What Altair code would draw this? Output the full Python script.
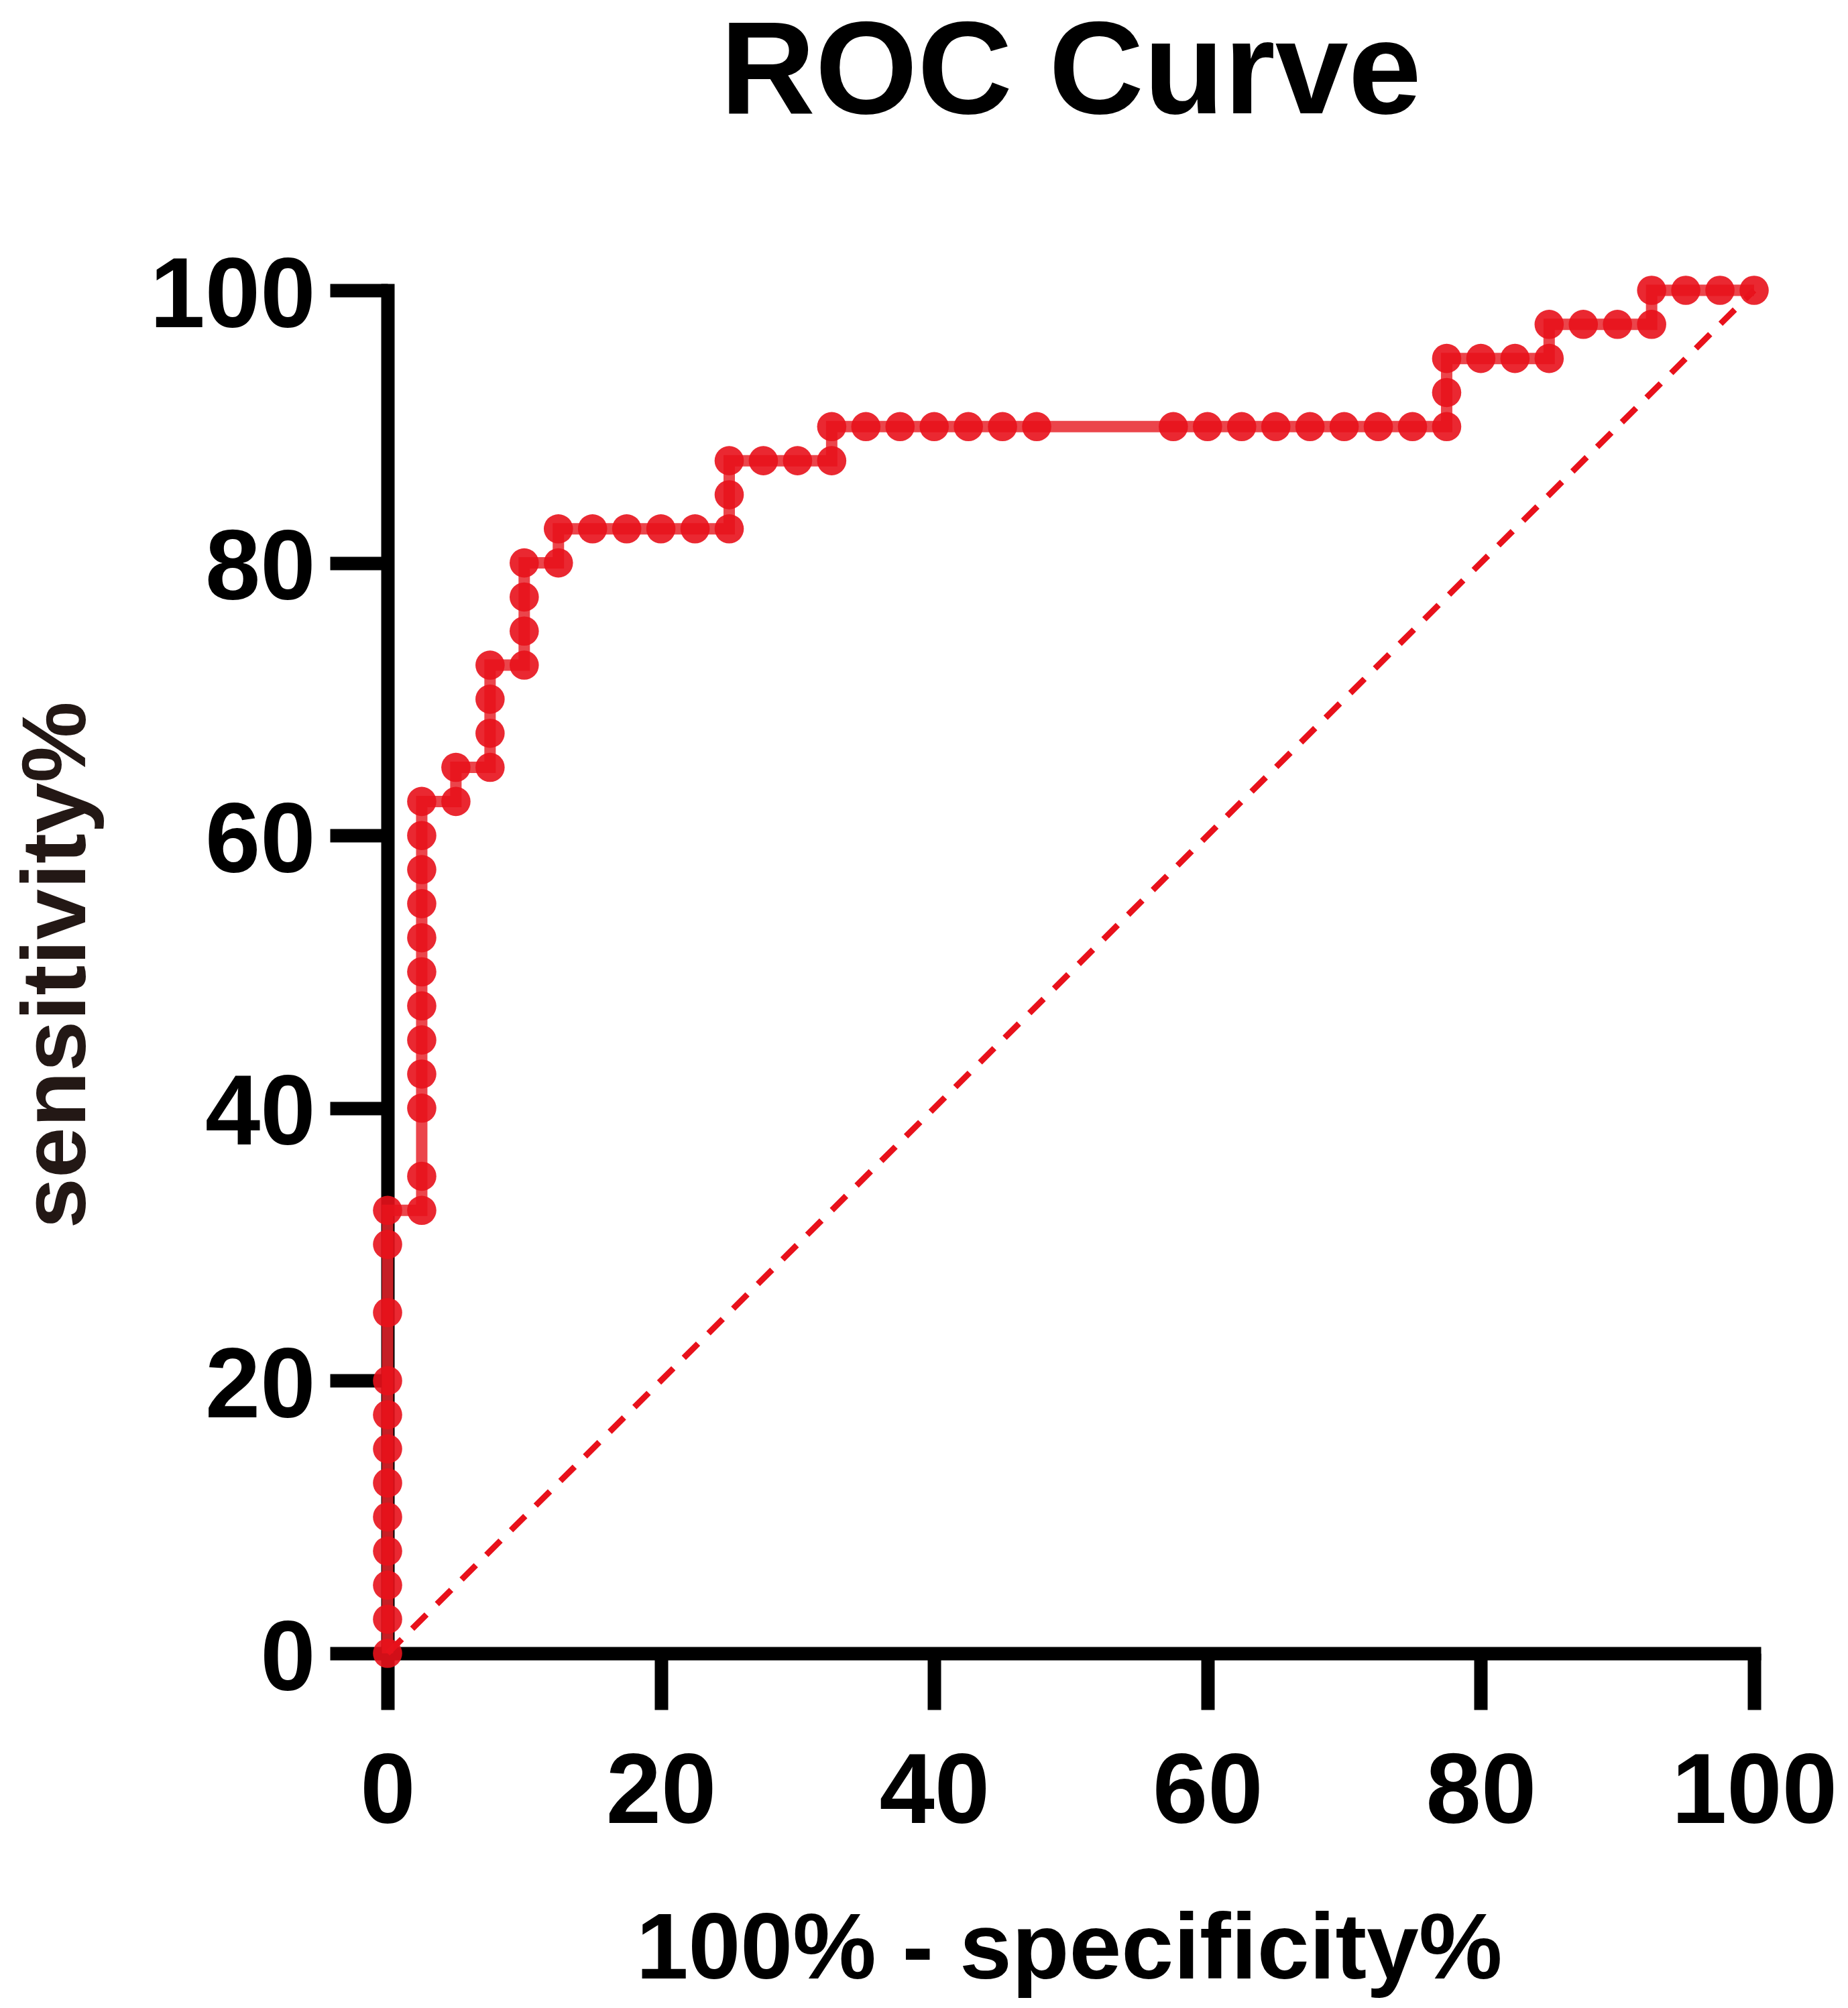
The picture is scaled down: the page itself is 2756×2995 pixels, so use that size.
import altair as alt
import pandas as pd

# ROC curve points (100% - specificity%, sensitivity%), in path order
fpr = ([0] * 12 + [2.5] * 12 + [5] * 2 + [7.5] * 4 + [10] * 4 + [12.5] * 2
       + [15, 17.5, 20, 22.5, 25] + [25, 25] + [27.5, 30, 32.5] + [32.5]
       + [35, 37.5, 40, 42.5, 45, 47.5, 57.5, 60, 62.5, 65, 67.5, 70, 72.5, 75, 77.5]
       + [77.5, 77.5] + [80, 82.5, 85] + [85] + [87.5, 90, 92.5] + [92.5]
       + [95, 97.5, 100])
tpr = ([0, 2.5, 5, 7.5, 10, 12.5, 15, 17.5, 20, 25, 30, 32.5]
       + [32.5, 35, 40, 42.5, 45, 47.5, 50, 52.5, 55, 57.5, 60, 62.5]
       + [62.5, 65] + [65, 67.5, 70, 72.5] + [72.5, 75, 77.5, 80] + [80, 82.5]
       + [82.5] * 5 + [85, 87.5] + [87.5] * 3 + [90] + [90] * 15
       + [92.5, 95] + [95] * 3 + [97.5] + [97.5] * 3 + [100] + [100] * 3)

# reference (chance) line
ref_x = [0, 100]
ref_y = [0, 100]

ticks = [0, 20, 40, 60, 80, 100]

roc = pd.DataFrame({"x": fpr, "y": tpr, "order": list(range(len(fpr)))})
ref = pd.DataFrame({"x": ref_x, "y": ref_y})

RED = "#E8111B"
FONT = "Liberation Sans"

xscale = alt.Scale(domain=[0, 100], nice=False)
yscale = alt.Scale(domain=[0, 100], nice=False)

xaxis = alt.Axis(
    values=ticks, title="100% - specificity%", grid=False,
    domainColor="black", domainWidth=20, domainCap="square",
    tickColor="black", tickWidth=20, tickSize=84, tickCap="butt",
    labelFont=FONT, labelFontSize=148, labelFontWeight="bold", labelColor="black",
    labelBaseline="alphabetic", labelPadding=168, labelFlush=False, labelLimit=2000,
    labelOverlap=False,
    titleFont=FONT, titleFontSize=140, titleFontWeight="bold", titleColor="black",
    titleBaseline="alphabetic", titleX=1016, titleY=484, titleAlign="center",
)
yaxis = alt.Axis(
    values=ticks, title="sensitivity%", grid=False,
    domainColor="black", domainWidth=20, domainCap="square",
    tickColor="black", tickWidth=20, tickSize=86, tickCap="butt",
    labelFont=FONT, labelFontSize=148, labelFontWeight="bold", labelColor="black",
    labelBaseline="alphabetic", labelOffset=54, labelPadding=22, labelFlush=False,
    labelLimit=2000, labelOverlap=False,
    titleFont=FONT, titleFontSize=136, titleFontWeight="bold", titleColor="#231815",
    titleBaseline="alphabetic", titleAngle=270, titleX=-452, titleY=1006,
    titleAlign="center", titleLimit=3000,
)

diag = alt.Chart(ref).mark_line(
    color=RED, strokeWidth=9, strokeDash=[30, 22]
).encode(
    x=alt.X("x:Q", scale=xscale, axis=xaxis),
    y=alt.Y("y:Q", scale=yscale, axis=yaxis),
)

line = alt.Chart(roc).mark_line(
    color="#E8242C", strokeWidth=17, opacity=0.85
).encode(
    x=alt.X("x:Q", scale=xscale),
    y=alt.Y("y:Q", scale=yscale),
    order="order:Q",
)

pts = alt.Chart(roc).mark_circle(
    color=RED, size=1900, opacity=0.9
).encode(
    x=alt.X("x:Q", scale=xscale),
    y=alt.Y("y:Q", scale=yscale),
)

chart = alt.layer(diag, line, pts).properties(
    width=2038,
    height=2033,
    title=alt.TitleParams(
        "ROC Curve", font=FONT, fontSize=196, fontWeight="bold", color="black",
        anchor="middle", frame="group", baseline="top", offset=159, limit=3000,
    ),
    autosize=alt.AutoSizeParams(type="none"),
    padding={"left": 570, "top": 425, "right": 132, "bottom": 521},
).configure(
    background="white",
    view=alt.ViewConfig(stroke="transparent", strokeWidth=0),
)

chart.save("out.html", embed_options={"renderer": "svg", "actions": False})
